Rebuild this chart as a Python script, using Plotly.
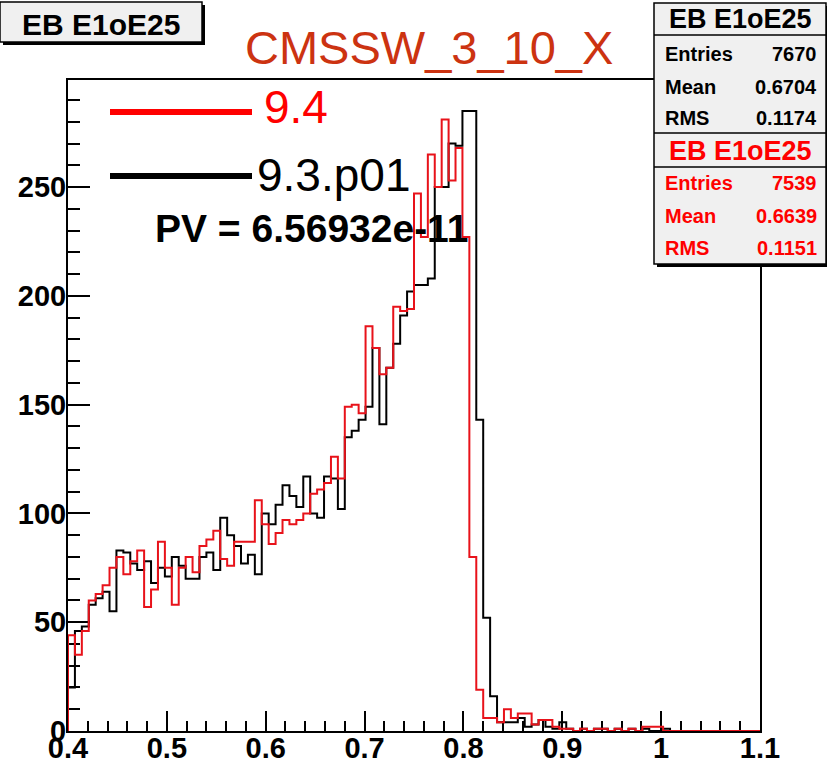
import numpy as np
import plotly.graph_objects as go

# ---- histogram data: EB E1oE25, 100 bins between 0.4 and 1.1 ----
bin_low, bin_high, n_bins = 0.4, 1.1, 100

# reference release 9.3.p01 (black)
counts_ref = [
    20, 46, 48, 58, 61, 64, 55, 83, 82, 77,
    74, 78, 68, 75, 71, 80, 76, 70, 70, 80,
    82, 74, 98, 90, 85, 77, 81, 72, 100, 95,
    104, 113, 108, 103, 117, 100, 98, 117, 116, 102,
    135, 138, 143, 149, 176, 141, 167, 178, 191, 202,
    205, 205, 208, 250, 250, 270, 269, 285, 285, 143,
    52, 16, 4, 4, 4, 6, 2, 3, 5, 2,
    1, 4, 1, 0, 1, 0, 1, 1, 0, 1,
    0, 1, 0, 1, 0, 0, 1, 0, 0, 0,
    0, 0, 0, 0, 0, 0, 0, 0, 0, 0,
]

# new release 9.4 (red)
counts_new = [
    44, 35, 46, 60, 63, 67, 75, 80, 72, 78,
    83, 57, 65, 87, 75, 58, 75, 80, 73, 85,
    88, 92, 79, 76, 87, 87, 87, 106, 95, 86,
    91, 97, 95, 97, 100, 109, 111, 114, 126, 116,
    149, 150, 146, 186, 176, 164, 167, 195, 193, 194,
    247, 227, 265, 250, 281, 253, 268, 227, 80, 19,
    6, 6, 4, 10, 6, 8, 8, 3, 5, 5,
    2, 1, 1, 0, 1, 0, 1, 1, 0, 1,
    0, 1, 0, 2, 2, 2, 0, 0, 0, 0,
    0, 0, 0, 0, 0, 0, 0, 0, 0, 0,
]

stats_ref = [("Entries", "7670"), ("Mean", "0.6704"), ("RMS", "0.1174")]
stats_new = [("Entries", "7539"), ("Mean", "0.6639"), ("RMS", "0.1151")]

hist_name = "EB E1oE25"
release_label = "CMSSW_3_10_X"
label_new, label_ref = "9.4", "9.3.p01"
pvalue_text = "PV = 6.56932e-11"

x_ticks = [0.4, 0.5, 0.6, 0.7, 0.8, 0.9, 1.0, 1.1]
y_ticks = [0, 50, 100, 150, 200, 250]
y_max = 299.2

# ---- canvas geometry (pixels) ----
W, H = 827, 763
L, R, T, B = 68, 760, 80, 731
FONT = "Liberation Sans, Arial, Helvetica, sans-serif"
RED = "#ff0000"
BOX_FILL = "#f0f0f0"


def fx(px):
    return (px - L) / (R - L)


def fy(py):
    return (B - py) / (B - T)


def step_outline(counts):
    edges = np.linspace(bin_low, bin_high, n_bins + 1)
    xs = [edges[0], edges[0]] + list(edges[1:]) + [edges[-1]]
    ys = [0] + list(counts) + [counts[-1], 0]
    return xs, ys


fig = go.Figure()
for counts, color in ((counts_ref, "black"), (counts_new, "#e8121a")):
    xs, ys = step_outline(counts)
    fig.add_trace(go.Scatter(
        x=xs, y=ys, mode="lines", line=dict(color=color, width=2, shape="hv"),
        showlegend=False, hoverinfo="skip",
    ))

shapes = []
annotations = []


def box(x0, y0, x1, y1, shadow=3):
    shapes.append(dict(type="rect", xref="paper", yref="paper",
                       x0=fx(x0 + shadow), x1=fx(x1 + shadow),
                       y0=fy(y1 + shadow), y1=fy(y0 + shadow),
                       line=dict(width=0), fillcolor="black", layer="above"))
    shapes.append(dict(type="rect", xref="paper", yref="paper",
                       x0=fx(x0), x1=fx(x1), y0=fy(y1), y1=fy(y0),
                       line=dict(color="black", width=1.5),
                       fillcolor=BOX_FILL, layer="above"))


def hline(x0, x1, y, color="black", width=1.5):
    shapes.append(dict(type="line", xref="paper", yref="paper",
                       x0=fx(x0), x1=fx(x1), y0=fy(y), y1=fy(y),
                       line=dict(color=color, width=width), layer="above"))


def text(x, y, s, size, color="black", bold=False, xanchor="left"):
    annotations.append(dict(
        x=fx(x), y=fy(y), xref="paper", yref="paper", text=s, showarrow=False,
        xanchor=xanchor, yanchor="middle",
        font=dict(family=FONT, size=size, color=color,
                  weight="bold" if bold else "normal"),
    ))


# histogram title box
box(0, 2, 202, 42)
text(101, 24, hist_name, 30, bold=True, xanchor="center")

# release label
text(243, 47, release_label, 47, color="#cc3311")

# legend lines and labels
hline(110, 252, 112, color=RED, width=6)
hline(110, 252, 176, color="black", width=6)
text(262, 107, label_new, 46, color=RED)
text(255, 175, label_ref, 46)
text(153, 228, pvalue_text, 39, bold=True)

# statistics boxes
box(654, 3, 826, 264)
hline(654, 826, 35)
hline(654, 826, 133)
hline(654, 826, 167)
text(740, 19, hist_name, 27, bold=True, xanchor="center")
text(740, 151, hist_name, 27, color=RED, bold=True, xanchor="center")
for rows, y_rows, color in ((stats_ref, (54, 87, 118), "black"),
                            (stats_new, (183, 216, 248), RED)):
    for (name, value), yy in zip(rows, y_rows):
        text(663, yy, name, 20, color=color, bold=True)
        text(819, yy, value, 20, color=color, bold=True, xanchor="right")

axis_common = dict(
    showline=True, linecolor="black", linewidth=2, mirror=True,
    showgrid=False, zeroline=False, ticks="inside", tickwidth=2,
    tickcolor="black", layer="below traces", automargin=False,
    tickfont=dict(family=FONT, size=29, color="black", weight="bold"),
)

fig.update_layout(
    width=W, height=H,
    margin=dict(l=L, r=W - R, t=T, b=H - B, pad=0, autoexpand=False),
    paper_bgcolor="white", plot_bgcolor="white",
    xaxis=dict(range=[bin_low, bin_high], tickvals=x_ticks,
               ticktext=[f"{v:g}" for v in x_ticks], ticklen=20,
               ticklabelstandoff=-10,
               minor=dict(dtick=0.02, tick0=0.4, ticks="inside", ticklen=10,
                          tickwidth=2, tickcolor="black", showgrid=False),
               **axis_common),
    yaxis=dict(range=[0, y_max], tickvals=y_ticks, ticklen=22,
               ticklabelstandoff=-6,
               minor=dict(dtick=10, tick0=0, ticks="inside", ticklen=12,
                          tickwidth=2, tickcolor="black", showgrid=False),
               **axis_common),
    shapes=shapes, annotations=annotations, showlegend=False,
)

fig.write_html("out.html")
